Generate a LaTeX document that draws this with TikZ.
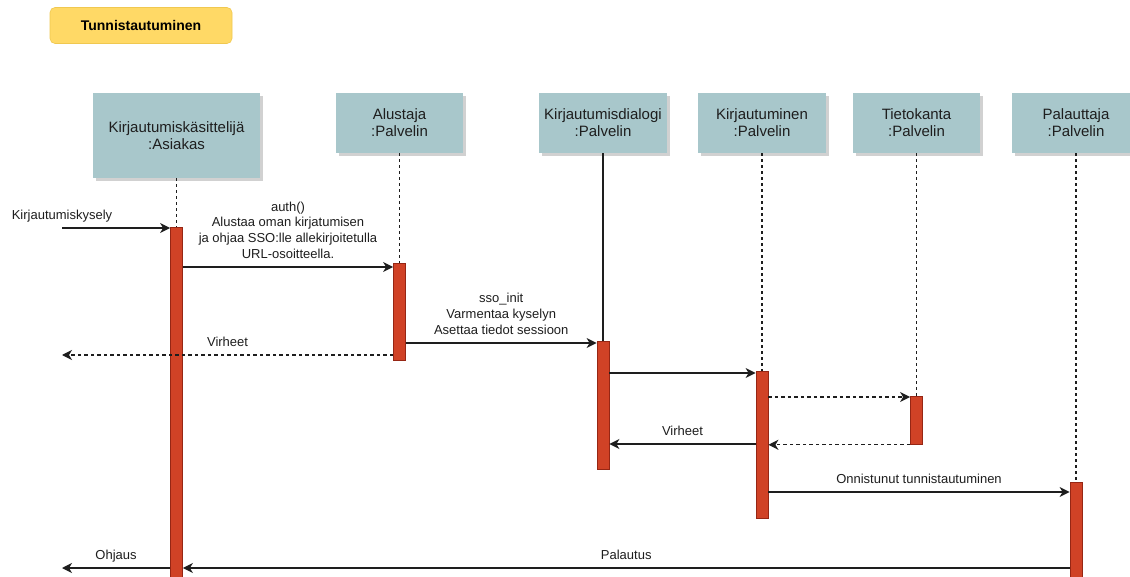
\documentclass[tikz,border=0pt]{standalone}
\usepackage{fontspec}
\setmainfont{Liberation Sans}
\usetikzlibrary{arrows.meta,shadows}
\definecolor{headfill}{RGB}{168,199,203}
\definecolor{barfill}{RGB}{208,66,38}
\definecolor{bardraw}{RGB}{150,38,20}
\definecolor{titlefill}{RGB}{255,217,102}
\definecolor{titledraw}{RGB}{240,200,80}
\definecolor{ink}{RGB}{30,30,30}
\tikzset{
  head/.style={fill=headfill, draw=none, inner sep=0pt, align=center, text=ink,
    font=\fontsize{15}{17}\selectfont,
    drop shadow={shadow xshift=3pt, shadow yshift=-3pt, opacity=0.18, fill=black}},
  bar/.style={draw=bardraw, fill=barfill, line width=0.8pt, minimum width=12pt,
    inner sep=0pt, anchor=north},
  life/.style={ink, line width=1.4pt, dash pattern=on 3pt off 3pt},
  solidlife/.style={ink, line width=1.2pt},
  msg/.style={ink, line width=1.3pt, -{Stealth[length=10pt,width=10pt,inset=3pt]}},
  ret/.style={msg, dash pattern=on 3.5pt off 3pt},
  lbl/.style={anchor=south, inner sep=0pt, text depth=0pt, yshift=8pt, text=ink,
    align=center, font=\fontsize{13}{15.7}\selectfont},
  titlebox/.style={fill=titlefill, draw=titledraw, line width=0.6pt, rounded corners=5pt,
    minimum width=182pt, minimum height=36pt, inner sep=0pt, text=black,
    font=\fontsize{14}{16}\selectfont\bfseries}
}
\begin{document}
\begin{tikzpicture}[x=1pt,y=-1pt]
\useasboundingbox (0,0) rectangle (1130,577);
\clip (0,0) rectangle (1130,577);
\fill[white] (0,0) rectangle (1130,577);

% title
\node[titlebox] (title) at (141,25.5) {Tunnistautuminen};

% lifeline heads
\node[head, minimum width=167pt, minimum height=85pt] (h1) at (176.5,135.5) {Kirjautumiskäsittelijä\\:Asiakas};
\node[head, minimum width=127pt, minimum height=60pt] (h2) at (399.5,123) {Alustaja\\:Palvelin};
\node[head, minimum width=128pt, minimum height=60pt] (h3) at (603,123) {Kirjautumisdialogi\\:Palvelin};
\node[head, minimum width=128pt, minimum height=60pt] (h4) at (762,123) {Kirjautuminen\\:Palvelin};
\node[head, minimum width=127pt, minimum height=60pt] (h5) at (916.5,123) {Tietokanta\\:Palvelin};
\node[head, minimum width=128pt, minimum height=60pt] (h6) at (1076,123) {Palauttaja\\:Palvelin};

% activation bars
\node[bar, minimum height=380pt] (b1) at (h1.south |- 0,227) {};
\node[bar, minimum height=97pt]  (b2) at (h2.south |- 0,263) {};
\node[bar, minimum height=128pt] (b3) at (h3.south |- 0,341) {};
\node[bar, minimum height=147pt] (b4) at (h4.south |- 0,371) {};
\node[bar, minimum height=48pt]  (b5) at (h5.south |- 0,396) {};
\node[bar, minimum height=120pt] (b6) at (h6.south |- 0,482) {};

% lifelines
\draw[life] (h1.south) -- (b1.north);
\draw[life] (h2.south) -- (b2.north);
\draw[solidlife] (h3.south) -- (b3.north);
\draw[life] (h4.south) -- (b4.north);
\draw[life] (h5.south) -- (b5.north);
\draw[life] (h6.south) -- (b6.north);

% free ends on the left
\coordinate (inK) at (62,228);
\coordinate (outV) at (62,355);
\coordinate (outO) at (62,568);

% messages
\draw[msg] (inK) -- node[lbl, pos=0] {Kirjautumiskysely} (b1.west |- inK);
\draw[msg] (b1.east |- 0,267) -- node[lbl] {auth()\\Alustaa oman kirjatumisen\\ja ohjaa SSO:lle allekirjoitetulla\\URL-osoitteella.} (b2.west |- 0,267);
\draw[ret] (b2.west |- outV) -- node[lbl] {Virheet} (outV);
\draw[msg] (b2.east |- 0,343) -- node[lbl] {sso\_init\\Varmentaa kyselyn\\Asettaa tiedot sessioon} (b3.west |- 0,343);
\draw[msg] (b3.east |- 0,373) -- (b4.west |- 0,373);
\draw[ret] (b4.east |- 0,397) -- (b5.west |- 0,397);
\draw[ret] (b5.south west) -- (b4.east |- b5.south);
\draw[msg] (b4.west |- 0,444) -- node[lbl] {Virheet} (b3.east |- 0,444);
\draw[msg] (b4.east |- 0,492) -- node[lbl] {Onnistunut tunnistautuminen} (b6.west |- 0,492);
\draw[msg] (b6.west |- outO) -- node[lbl] {Palautus} (b1.east |- outO);
\draw[msg] (b1.west |- outO) -- node[lbl] {Ohjaus} (outO);
\end{tikzpicture}
\end{document}
